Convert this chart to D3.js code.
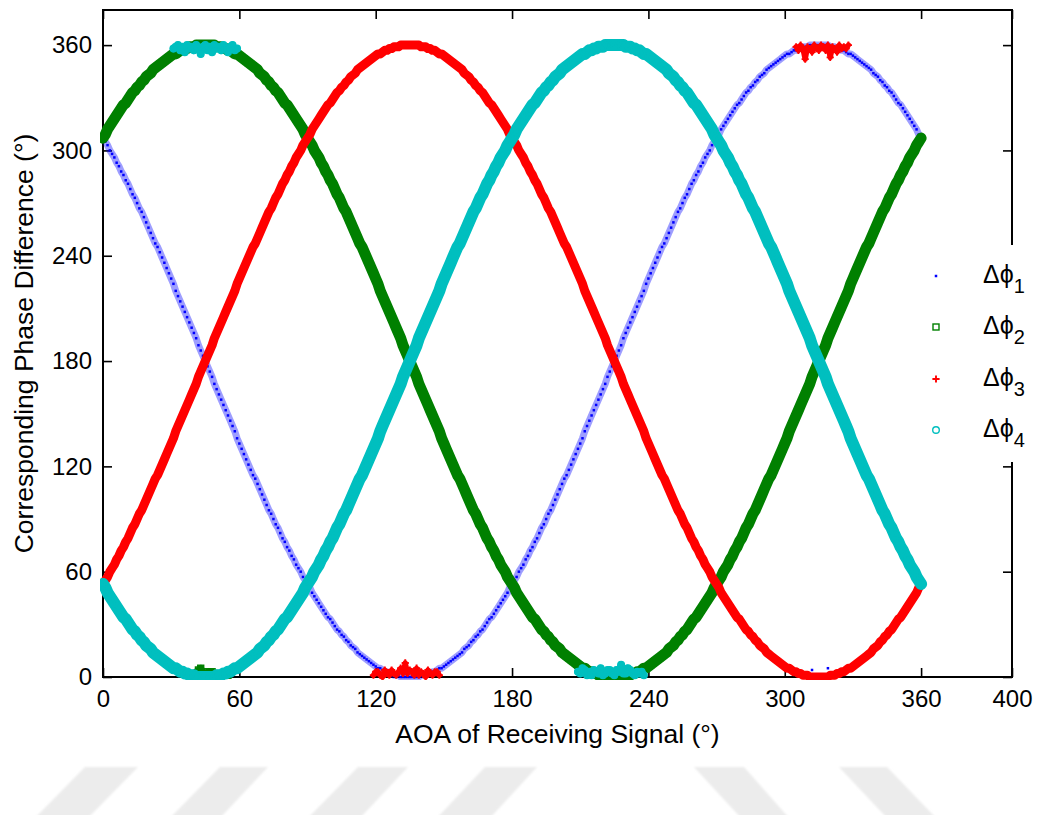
<!DOCTYPE html>
<html lang="en">
<head>
<meta charset="utf-8">
<title>Phase difference vs AOA</title>
<style>
  body { margin: 0; background: #fff; }
  svg text { font-family: "Liberation Sans", Arial, "DejaVu Sans", sans-serif; fill: #000; }
</style>
</head>
<body>
<svg id="chart" width="1039" height="815"></svg>
<script src="https://cdn.jsdelivr.net/npm/d3@7"></script>
<script>
// AOA of the receiving signal, one sample per degree
const aoa = d3.range(0, 361);

// phase differences (deg), one value per degree of AOA
const dphi1 = [
307,305,303,300,298,
296,293,291,288,286,283,281,278,275,273,
270,267,265,262,259,256,253,250,247,245,
242,239,236,233,230,227,224,220,217,214,
211,208,205,202,199,196,193,189,186,183,
180,177,174,171,167,164,161,158,155,152,
149,146,143,140,136,133,130,127,124,121,
118,115,113,110,107,104,101,98,95,93,
90,87,85,82,79,77,74,72,69,67,
64,62,60,57,55,53,51,48,46,44,
42,40,38,36,34,33,31,29,27,26,
24,23,21,20,18,17,16,14,13,12,
11,10,9,8,7,6,5,5,4,3,
3,2,2,1,1,1,0,0,0,0,
0,
0,0,0,0,1,1,1,2,2,3,
3,4,5,5,6,7,8,9,10,11,
12,13,14,16,17,18,20,21,23,24,
26,27,29,31,33,34,36,38,40,42,
44,46,48,51,53,55,57,60,62,64,
67,69,72,74,77,79,82,85,87,90,
93,95,98,101,104,107,110,113,115,118,
121,124,127,130,133,136,140,143,146,149,
152,155,158,161,164,167,171,174,177,180,
183,186,189,193,196,199,202,205,208,211,
214,217,220,224,227,230,233,236,239,242,
245,247,250,253,256,259,262,265,267,270,
273,275,278,281,283,286,288,291,293,296,
298,300,303,305,307,309,312,314,316,318,
320,322,324,326,327,329,331,333,334,336,
337,339,340,342,343,344,346,347,348,349,
350,351,352,353,354,355,355,356,357,357,
358,358,359,359,359,360,360,360,360,360,
360,360,360,360,359,359,359,358,358,
357,357,356,355,355,354,353,352,351,350,
349,348,347,346,344,343,342,340,339,337,
336,334,333,331,329,327,326,324,322,320,
318,316,314,312,309,307
];

const dphi2 = [
307,309,312,314,316,318,320,322,324,326,
327,329,331,333,334,336,337,339,340,342,
343,344,346,347,348,349,350,351,352,353,
354,355,355,356,357,357,358,358,359,359,
359,360,360,360,360,360,
360,360,360,360,359,359,359,358,358,
357,357,356,355,355,354,353,352,351,350,
349,348,347,346,344,343,342,340,339,337,
336,334,333,331,329,327,326,324,322,320,
318,316,314,312,309,307,305,303,300,298,
296,293,291,288,286,283,281,278,275,273,
270,267,265,262,259,256,253,250,247,245,
242,239,236,233,230,227,224,220,217,214,
211,208,205,202,199,196,193,189,186,183,
180,177,174,171,167,164,161,158,155,152,
149,146,143,140,136,133,130,127,124,121,
118,115,113,110,107,104,101,98,95,93,
90,87,85,82,79,77,74,72,69,67,
64,62,60,57,55,53,51,48,46,44,
42,40,38,36,34,33,31,29,27,26,
24,23,21,20,18,17,16,14,13,12,
11,10,9,8,7,6,5,5,4,3,
3,2,2,1,1,1,0,0,0,0,
0,
0,0,0,0,1,1,1,2,2,3,
3,4,5,5,6,7,8,9,10,11,
12,13,14,16,17,18,20,21,23,24,
26,27,29,31,33,34,36,38,40,42,
44,46,48,51,53,55,57,60,62,64,
67,69,72,74,77,79,82,85,87,90,
93,95,98,101,104,107,110,113,115,118,
121,124,127,130,133,136,140,143,146,149,
152,155,158,161,164,167,171,174,177,180,
183,186,189,193,196,199,202,205,208,211,
214,217,220,224,227,230,233,236,239,242,
245,247,250,253,256,259,262,265,267,270,
273,275,278,281,283,286,288,291,293,296,
298,300,303,305,307
];

const dphi3 = [
53,55,57,60,62,64,
67,69,72,74,77,79,82,85,87,90,
93,95,98,101,104,107,110,113,115,118,
121,124,127,130,133,136,140,143,146,149,
152,155,158,161,164,167,171,174,177,180,
183,186,189,193,196,199,202,205,208,211,
214,217,220,224,227,230,233,236,239,242,
245,247,250,253,256,259,262,265,267,270,
273,275,278,281,283,286,288,291,293,296,
298,300,303,305,307,309,312,314,316,318,
320,322,324,326,327,329,331,333,334,336,
337,339,340,342,343,344,346,347,348,349,
350,351,352,353,354,355,355,356,357,357,
358,358,359,359,359,360,360,360,360,360,
360,360,360,360,359,359,359,358,358,
357,357,356,355,355,354,353,352,351,350,
349,348,347,346,344,343,342,340,339,337,
336,334,333,331,329,327,326,324,322,320,
318,316,314,312,309,307,305,303,300,298,
296,293,291,288,286,283,281,278,275,273,
270,267,265,262,259,256,253,250,247,245,
242,239,236,233,230,227,224,220,217,214,
211,208,205,202,199,196,193,189,186,183,
180,177,174,171,167,164,161,158,155,152,
149,146,143,140,136,133,130,127,124,121,
118,115,113,110,107,104,101,98,95,93,
90,87,85,82,79,77,74,72,69,67,
64,62,60,57,55,53,51,48,46,44,
42,40,38,36,34,33,31,29,27,26,
24,23,21,20,18,17,16,14,13,12,
11,10,9,8,7,6,5,5,4,3,
3,2,2,1,1,1,0,0,0,0,
0,
0,0,0,0,1,1,1,2,2,3,
3,4,5,5,6,7,8,9,10,11,
12,13,14,16,17,18,20,21,23,24,
26,27,29,31,33,34,36,38,40,42,
44,46,48,51,53
];

const dphi4 = [
53,51,48,46,44,
42,40,38,36,34,33,31,29,27,26,
24,23,21,20,18,17,16,14,13,12,
11,10,9,8,7,6,5,5,4,3,
3,2,2,1,1,1,0,0,0,0,
0,
0,0,0,0,1,1,1,2,2,3,
3,4,5,5,6,7,8,9,10,11,
12,13,14,16,17,18,20,21,23,24,
26,27,29,31,33,34,36,38,40,42,
44,46,48,51,53,55,57,60,62,64,
67,69,72,74,77,79,82,85,87,90,
93,95,98,101,104,107,110,113,115,118,
121,124,127,130,133,136,140,143,146,149,
152,155,158,161,164,167,171,174,177,180,
183,186,189,193,196,199,202,205,208,211,
214,217,220,224,227,230,233,236,239,242,
245,247,250,253,256,259,262,265,267,270,
273,275,278,281,283,286,288,291,293,296,
298,300,303,305,307,309,312,314,316,318,
320,322,324,326,327,329,331,333,334,336,
337,339,340,342,343,344,346,347,348,349,
350,351,352,353,354,355,355,356,357,357,
358,358,359,359,359,360,360,360,360,360,
360,360,360,360,359,359,359,358,358,
357,357,356,355,355,354,353,352,351,350,
349,348,347,346,344,343,342,340,339,337,
336,334,333,331,329,327,326,324,322,320,
318,316,314,312,309,307,305,303,300,298,
296,293,291,288,286,283,281,278,275,273,
270,267,265,262,259,256,253,250,247,245,
242,239,236,233,230,227,224,220,217,214,
211,208,205,202,199,196,193,189,186,183,
180,177,174,171,167,164,161,158,155,152,
149,146,143,140,136,133,130,127,124,121,
118,115,113,110,107,104,101,98,95,93,
90,87,85,82,79,77,74,72,69,67,
64,62,60,57,55,53
];

// samples that wrapped around 0/360 near each trace's extremes: [aoa, phase]
const wrap1 = [[309,2],[312,4],[316,1],[319,5],[322,2]];
const wrap2 = [[40,2],[42,4],[43,5],[45,1],[46,3],[48,3],[50,0],[51,2],[53,2],[55,1],[56,4]];
const wrap3 = [
  [119,1],[120,3],[121,3],[122,1],[123,0],[124,4],[125,2],[126,1],[127,4],[128,2],[129,1],[130,3],
  [131,5],[132,2],[133,8],[134,2],[135,4],[136,3],[137,1],[138,5],[139,1],[140,3],[141,2],[142,0],
  [143,4],[144,2],[145,1],[146,3],[147,3],[148,1],
  [305,359],[306,357],[307,360],[308,358],[309,352],[310,359],[311,358],[312,356],[313,360],
  [314,358],[315,357],[316,360],[317,359],[318,357],[319,360],[320,353],[321,359],[322,358],
  [323,356],[324,360],[325,358],[326,359],[327,358],[328,360]];
const wrap4 = [
  [31,358],[32,359],[33,360],[34,357],[35,359],[36,356],[37,360],[38,358],[39,359],[40,357],
  [41,360],[42,358],[43,355],[44,359],[45,360],[46,357],[47,359],[48,356],[49,360],[50,358],
  [51,359],[52,357],[53,360],[54,358],[55,356],[56,359],[57,360],[58,357],[59,358],
  [209,3],[210,2],[211,5],[212,4],[213,1],[214,3],[215,1],[216,4],[217,3],[218,2],[219,5],[220,1],
  [221,2],[222,4],[223,4],[224,2],[225,1],[226,4],[227,3],[228,7],[229,2],[230,2],[231,5],[232,4],
  [233,2],[234,1],[235,3],[236,2],[237,3],[238,1]];

const xTicks = [0, 60, 120, 180, 240, 300, 360, 400];
const yTicks = [0, 60, 120, 180, 240, 300, 360];
const seriesNames = ["1", "2", "3", "4"];

// faint watermark bands at the foot of the page
const watermark = [
  [85, 138, 35, 88], [220, 268, 170, 220], [358, 408, 308, 360], [485, 537, 437, 490],
  [694, 744, 741, 789], [839, 887, 887, 936]
];

const svg = d3.select("#chart");

const x = d3.scaleLinear().domain([0, 400]).range([103, 1012]);
const y = d3.scaleLinear().domain([0, 380]).range([677, 10]);

const defs = svg.append("defs");
defs.append("filter").attr("id", "soft")
  .append("feGaussianBlur").attr("stdDeviation", 0.9);
defs.append("clipPath").attr("id", "plotclip")
  .append("rect").attr("x", 100).attr("y", 8).attr("width", 915).attr("height", 672);

svg.append("g").attr("filter", "url(#soft)")
  .selectAll("polygon").data(watermark).join("polygon")
  .attr("points", d => `${d[0]},767 ${d[1]},767 ${d[3]},818 ${d[2]},818`)
  .attr("fill", "#ececec");

// axes: ticks point inward on all four sides
const tickLen = 9;
function styleAxis(g) {
  g.select(".domain").remove();
  g.selectAll(".tick line").attr("stroke", "#000").attr("stroke-width", 1.6);
  g.selectAll(".tick text").style("font-size", "24px");
}
svg.append("g").attr("transform", "translate(0,677)")
  .call(d3.axisBottom(x).tickValues(xTicks).tickSizeInner(-tickLen).tickSizeOuter(0).tickPadding(13))
  .call(styleAxis);
svg.append("g").attr("transform", "translate(0,10)")
  .call(d3.axisTop(x).tickValues(xTicks).tickSizeInner(-tickLen).tickSizeOuter(0).tickFormat(""))
  .call(styleAxis);
svg.append("g").attr("transform", "translate(103,0)")
  .call(d3.axisLeft(y).tickValues(yTicks).tickSizeInner(-tickLen).tickSizeOuter(0).tickPadding(11))
  .call(styleAxis);
svg.append("g").attr("transform", "translate(1012,0)")
  .call(d3.axisRight(y).tickValues(yTicks).tickSizeInner(-tickLen).tickSizeOuter(0).tickFormat(""))
  .call(styleAxis);

svg.append("rect")
  .attr("x", x(0)).attr("y", y(380))
  .attr("width", x(400) - x(0)).attr("height", y(0) - y(380))
  .attr("fill", "none").attr("stroke", "#000").attr("stroke-width", 2);

// marker painters
const markers = {
  dot: (g, cx, cy) => g.append("rect").attr("x", cx - 1.25).attr("y", cy - 1.25)
    .attr("width", 2.5).attr("height", 2.5).attr("fill", "#0000ff"),
  square: (g, cx, cy) => g.append("rect").attr("x", cx - 3).attr("y", cy - 3)
    .attr("width", 6).attr("height", 6).attr("fill", "none")
    .attr("stroke", "#008000").attr("stroke-width", 1.4),
  plus: (g, cx, cy) => g.append("path").attr("d", `M${cx - 3.6},${cy}H${cx + 3.6}M${cx},${cy - 3.6}V${cy + 3.6}`)
    .attr("stroke", "#ff0000").attr("stroke-width", 1.9),
  circle: (g, cx, cy) => g.append("circle").attr("cx", cx).attr("cy", cy).attr("r", 3.3)
    .attr("fill", "none").attr("stroke", "#00bfbf").attr("stroke-width", 1.4)
};

const series = [
  { values: dphi1, wrap: wrap1, color: "#0000ff", marker: "dot", band: 7, bandOpacity: 0.38 },
  { values: dphi2, wrap: wrap2, color: "#008000", marker: "square", band: 11, bandOpacity: 1 },
  { values: dphi3, wrap: wrap3, color: "#ff0000", marker: "plus", band: 9, bandOpacity: 1 },
  { values: dphi4, wrap: wrap4, color: "#00bfbf", marker: "circle", band: 12, bandOpacity: 1 }
];

// split wrapped samples into contiguous runs so each run gets its own band
function runs(pts) {
  const sorted = pts.slice().sort((a, b) => a[0] - b[0]);
  const out = [];
  sorted.forEach((p, i) => {
    if (i === 0 || p[0] - sorted[i - 1][0] > 3) out.push([]);
    out[out.length - 1].push(p);
  });
  return out;
}

const line = d3.line().x((d, i) => x(aoa[i])).y(d => y(d));
const wrapLine = d3.line().x(d => x(d[0])).y(d => y(d[1]));
const plot = svg.append("g").attr("clip-path", "url(#plotclip)");

series.forEach(s => {
  const g = plot.append("g");
  const band = (d, w) => g.append("path").attr("d", d)
    .attr("fill", "none").attr("stroke", s.color)
    .attr("stroke-width", w).attr("stroke-opacity", s.bandOpacity)
    .attr("stroke-linejoin", "round").attr("stroke-linecap", "round");
  band(line(s.values), s.band);
  if (s.marker !== "dot") runs(s.wrap).forEach(r => band(wrapLine(r), s.band * 0.6));
  s.values.forEach((v, i) => markers[s.marker](g, x(aoa[i]), y(v)));
  s.wrap.forEach(p => markers[s.marker](g, x(p[0]), y(p[1])));
});

// legend sits on a white box that hides the right frame
const legend = svg.append("g");
legend.append("rect").attr("x", 926).attr("y", 245).attr("width", 113).attr("height", 217).attr("fill", "#fff");
const legendY = [276, 327, 379, 430];
series.forEach((s, i) => {
  markers[s.marker](legend, 936, legendY[i]);
  const t = legend.append("text").attr("x", 983).attr("y", legendY[i] + 7).style("font-size", "25px");
  t.append("tspan").text("Δϕ");
  t.append("tspan").attr("dy", 10).style("font-size", "20px").text(seriesNames[i]);
});

// axis titles
svg.append("text")
  .attr("x", (x(0) + x(400)) / 2).attr("y", 743)
  .attr("text-anchor", "middle").style("font-size", "26.5px")
  .text("AOA of Receiving Signal (°)");
svg.append("text")
  .attr("transform", `translate(33,${(y(0) + y(380)) / 2}) rotate(-90)`)
  .attr("text-anchor", "middle").style("font-size", "26.5px")
  .text("Corresponding Phase Difference (°)");
</script>
</body>
</html>
